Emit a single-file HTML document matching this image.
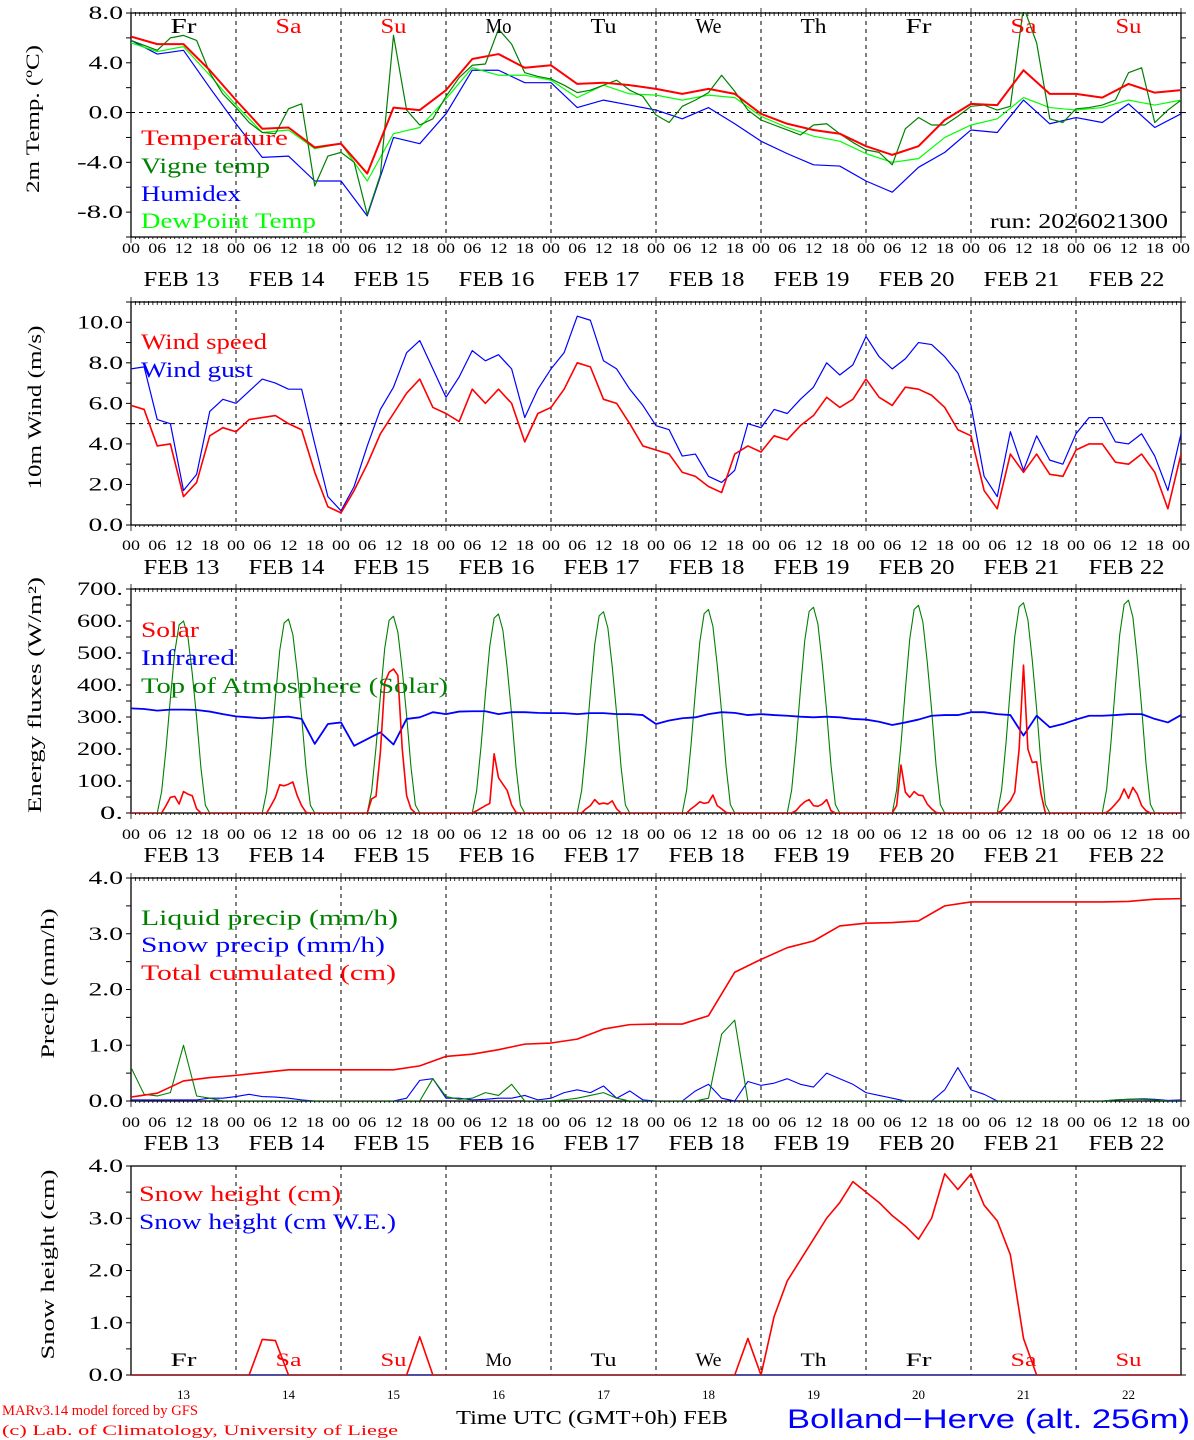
<!DOCTYPE html>
<html><head><meta charset="utf-8">
<style>
html,body{margin:0;padding:0;background:#fff;}
svg{display:block;}
</style></head>
<body>
<svg id="chart" xmlns="http://www.w3.org/2000/svg" width="1194" height="1440" viewBox="0 0 1194 1440"></svg>
<script>
// ---------- DATA ----------
const tempC = [6.1,5.5,5.5,3.4, 1.0,-1.3,-1.2,-2.8, -2.5,-4.9,0.4,0.2, 1.8,4.3,4.7,3.6, 3.8,2.3,2.4,2.2, 1.9,1.5,1.9,1.5, -0.1,-0.9,-1.4,-1.7, -2.7,-3.4,-2.7,-0.6, 0.7,0.6,3.4,1.5, 1.5,1.2,2.3,1.6, 1.8];
const humidex = [5.8,4.7,5.0,2.0, -0.9,-3.6,-3.5,-5.5, -5.5,-8.3,-2.0,-2.5, -0.1,3.4,3.4,2.4, 2.4,0.4,1.0,0.6, 0.2,-0.5,0.4,-0.9, -2.3,-3.3,-4.2,-4.3, -5.5,-6.4,-4.4,-3.2, -1.4,-1.6,1.0,-0.9, -0.4,-0.8,0.7,-1.2, -0.1];
const dewPoint = [5.6,4.9,5.3,3.0, 0.6,-1.6,-1.4,-2.9, -2.5,-5.5,-1.7,-1.2, 1.1,3.6,3.0,3.0, 2.6,1.2,2.2,1.5, 1.4,1.0,1.4,1.2, -0.3,-1.2,-1.9,-2.3, -3.3,-4.0,-3.7,-2.0, -1.0,-0.5,1.2,0.4, 0.2,0.4,1.0,0.6, 1.0];
const vigneTemp = [5.8,5.4,5.0,6.0,6.2,5.8,3.2,1.5, 0.4,-0.8,-1.6,-1.7,0.3,0.7,-5.9,-3.5, -3.2,-4.0,-8.2,-5.0,6.2,0.2,-1.0,-0.5, 1.3,2.8,3.8,3.9,6.7,5.5,3.2,2.9, 2.7,2.2,1.6,1.8,2.2,2.6,1.8,1.3, -0.2,-0.8,0.5,1.0,1.6,3.0,1.7,0.2, -0.6,-1.0,-1.4,-1.8,-1.0,-0.9,-1.7,-2.4, -3.0,-3.2,-4.2,-1.3,-0.4,-1.0,-1.0,-0.3, 0.5,0.6,0.2,0.5,8.5,5.6,-0.5,-0.8, 0.3,0.4,0.6,1.0,3.2,3.6,-0.8,0.2, 1.0];
const windSpeed = [5.9,5.7,3.9,4.0,1.4,2.1,4.4,4.8, 4.6,5.2,5.3,5.4,5.0,4.7,2.6,0.9, 0.6,1.7,3.0,4.5,5.5,6.5,7.2,5.8, 5.5,5.1,6.7,6.0,6.7,6.0,4.1,5.5, 5.8,6.7,8.0,7.8,6.2,6.0,5.0,3.9, 3.7, 3.5,2.6,2.4,1.9,1.6,3.5,3.9, 3.6,4.4,4.2,4.9,5.4,6.3,5.8,6.2, 7.2,6.3,5.9,6.8,6.7,6.4,5.8,4.7, 4.4,1.7,0.8,3.5,2.6,3.5,2.5,2.4, 3.7,4.0,4.0,3.1,3.0,3.5,2.6,0.8, 3.5];
const windGust = [7.7,7.8,5.2,5.0,1.7,2.5,5.6,6.2, 6.0,6.6,7.2,7.0,6.7,6.7,4.0,1.4, 0.7,1.9,3.9,5.7,6.8,8.5,9.1,7.7, 6.3,7.3,8.6,8.1,8.4,7.7,5.3,6.7, 7.7,8.5,10.3,10.1,8.1,7.7,6.7,5.9, 4.9, 4.7,3.4,3.5,2.4,2.1,2.7,5.0, 4.8,5.7,5.5,6.2,6.8,8.0,7.4,7.9, 9.3,8.3,7.7,8.2,9.0,8.9,8.3,7.5, 5.9,2.4,1.4,4.6,2.7,4.4,3.2,3.0, 4.5,5.3,5.3,4.1,4.0,4.5,3.4,1.7, 4.5];
const solarFlux = [
0,0,0,0,0,0,0,0,23,49,52,28,67,59,54,13,0,0,0,0,0,0,0,0,
0,0,0,0,0,0,0,0,23,49,88,85,90,97,54,23,2,0,0,0,0,0,0,0,
0,0,0,0,0,0,0,44,52,190,408,440,450,430,200,54,13,0,0,0,0,0,0,0,
0,0,0,0,0,0,0,7,15,23,30,185,110,90,70,25,2,0,0,0,0,0,0,0,
0,0,0,0,0,0,0,0,13,23,42,28,31,28,38,13,0,0,0,0,0,0,0,0,
0,0,0,0,0,0,0,0,13,23,35,30,33,56,23,13,2,0,0,0,0,0,0,0,
0,0,0,0,0,0,0,0,7,23,35,42,23,21,28,42,7,0,0,0,0,0,0,0,
0,0,0,0,0,0,0,23,150,65,49,67,56,54,28,13,2,0,0,0,0,0,0,0,
0,0,0,0,0,0,0,7,23,38,65,200,462,200,158,160,60,0,0,0,0,0,0,0,
0,0,0,0,0,0,0,2,13,28,44,75,46,80,59,23,7,0,0,0,0,0,0,0,
0];
const toaFlux = [
0,0,0,0,0,0,0,67,200,358,503,588,600,551,436,297,139,24,0,0,0,0,0,0,
0,0,0,0,0,0,0,67,202,361,508,594,606,557,441,300,141,24,0,0,0,0,0,0,
0,0,0,0,0,0,0,68,205,366,515,602,615,565,447,304,143,25,0,0,0,0,0,0,
0,0,0,0,0,0,0,69,207,371,521,609,622,571,452,308,144,25,0,0,0,0,0,0,
0,0,0,0,0,0,0,70,210,375,527,616,629,578,457,311,146,25,0,0,0,0,0,0,
0,0,0,0,0,0,0,71,212,379,533,623,636,584,462,315,148,26,0,0,0,0,0,0,
0,0,0,0,0,0,0,71,214,383,539,630,643,591,467,318,149,26,0,0,0,0,0,0,
0,0,0,0,0,0,0,72,216,387,544,636,649,597,472,321,151,26,0,0,0,0,0,0,
0,0,0,0,0,0,0,73,219,392,551,644,657,604,478,325,153,27,0,0,0,0,0,0,
0,0,0,0,0,0,0,74,222,396,558,652,665,612,484,329,155,27,0,0,0,0,0,0,
0];
const infraredFlux = [327,325,320,323,323,322,317,309, 302,299,296,299,301,294,216,278, 283,210,231,252,214,294,299,315, 309,317,318,318,309,315,315,313, 312,312,309,312,312,309,309,306, 278, 289,296,299,309,315,313,306, 309,306,304,301,299,301,299,294, 292,285,275,283,292,304,306,306, 315,315,309,306,242,304,268,278, 292,304,304,306,309,309,294,283, 306];
const liquidPrecip = [0.6,0.12,0.09,0.15,1.0,0.09,0.05,0, 0,0,0,0,0,0,0,0, 0,0,0,0,0,0,0,0.4, 0.08,0.03,0.05,0.15,0.1,0.3,0,0, 0,0.02,0.05,0.1,0.15,0.05,0,0, 0,0,0,0,0.05,1.2,1.45,0, 0,0,0,0,0,0,0,0, 0,0,0,0,0,0,0,0, 0,0,0,0,0,0,0,0, 0,0,0,0.02,0.03,0.03,0.02,0, 0];
const snowPrecip = [0.02,0.02,0.02,0.02,0.02,0.02,0.05,0.05, 0.08,0.12,0.08,0.07,0.05,0.02,0,0, 0,0,0,0,0,0.05,0.37,0.4, 0.05,0.05,0.02,0.03,0.05,0.05,0.1,0.02, 0.05,0.15,0.2,0.15,0.27,0.05,0.18,0.02, 0,0,0,0.18,0.3,0.05,0,0.35, 0.28,0.32,0.4,0.3,0.25,0.5,0.4,0.3, 0.15,0.1,0.05,0,0,0,0.2,0.6, 0.2,0.12,0,0,0,0,0,0, 0,0,0,0.02,0.03,0.04,0.03,0.01, 0.02];
const totalCumulated = [0.07,0.14,0.36,0.42, 0.46,0.51,0.56,0.56, 0.56,0.56,0.56,0.63, 0.80,0.84,0.92,1.02, 1.04,1.11,1.29,1.37, 1.38,1.38,1.53,2.31, 2.54,2.75,2.87,3.14, 3.19,3.20,3.23,3.50, 3.57,3.57,3.57,3.57, 3.57,3.57,3.58,3.62, 3.63];
const snowHeight = [0,0,0,0,0,0,0,0, 0,0,0.68,0.66,0,0,0,0, 0,0,0,0,0,0,0.73,0, 0,0,0,0,0,0,0,0, 0,0,0,0,0,0,0,0, 0,0,0,0,0,0,0,0.7, 0,1.12,1.8,2.2,2.6,3.0,3.3,3.7, 3.5,3.3,3.05,2.85,2.6,3.0,3.85,3.55, 3.85,3.25,2.95,2.3,0.7,0,0,0, 0,0,0,0,0,0,0,0, 0];
const snowHeightWE = [0,0,0,0,0,0,0,0,0,0,0,0,0,0,0,0,0,0,0,0,0];
const dayNames = ["Fr","Sa","Su","Mo","Tu","We","Th","Fr","Sa","Su"];
const dayDates = ["13","14","15","16","17","18","19","20","21","22"];
const hourLabels = ["00","06","12","18"];
const tempTicks = [-8,-4,0,4,8];
const windTicks = [0,2,4,6,8,10];
const fluxTicks = [0,100,200,300,400,500,600,700];
const precipTicks = [0,1,2,3,4];
const snowTicks = [0,1,2,3,4];

// ---------- GEOMETRY ----------
const NS = "http://www.w3.org/2000/svg";
const svg = document.getElementById("chart");
const X0 = 131, X1 = 1181, HOURS = 240;
function xs(h){ return X0 + h*(X1-X0)/HOURS; }
function ys(p, v){ return p.bottom - (v-p.min)/(p.max-p.min)*(p.bottom-p.top); }
const MONO = '"Liberation Serif", serif';
const SERIF = '"Liberation Serif", serif';

function mk(tag, attrs, parent, name, inter){
  const el = document.createElementNS(NS, tag);
  for (const k in attrs) el.setAttribute(k, attrs[k]);
  
  
  (parent || svg).appendChild(el);
  return el;
}
function txt(s, x, y, size, color, anchor, parent, name, fam, len, rot){
  const a = {x:x, y:y, 'font-size':size, fill:color, 'text-anchor':anchor||'start', 'font-family':fam||MONO};
  if (len){ a.textLength = len; a.lengthAdjust = 'spacingAndGlyphs'; }
  if (rot) a.transform = rot;
  const t = mk('text', a, parent, name, false);
  t.textContent = s;
  return t;
}

const panels = [
  {id:'temp', top:13, bottom:237, min:-10, max:8, minor:2, ticks:tempTicks, fmt:v=>v.toFixed(1), zero:0, title:'2m Temp. (ºC)', tx:45, tlen:148, hours:248, dates:279, topTicks:true},
  {id:'wind', top:302, bottom:525, min:0, max:11, minor:1, ticks:windTicks, fmt:v=>v.toFixed(1), zero:5, title:'10m Wind (m/s)', tx:47, tlen:164, hours:545, dates:567, topTicks:true},
  {id:'flux', top:589, bottom:813, min:0, max:700, minor:50, ticks:fluxTicks, fmt:v=>v.toFixed(0)+'.', zero:null, title:'Energy fluxes (W/m²)', tx:47, tlen:236, hours:834, dates:855, topTicks:true},
  {id:'precip', top:878, bottom:1101, min:0, max:4, minor:0.5, ticks:precipTicks, fmt:v=>v.toFixed(1), zero:null, title:'Precip (mm/h)', tx:60, tlen:150, hours:1122, dates:1143, topTicks:true},
  {id:'snow', top:1166, bottom:1375, min:0, max:4, minor:0.5, ticks:snowTicks, fmt:v=>v.toFixed(1), zero:null, title:'Snow height (cm)', tx:60, tlen:190, hours:null, dates:null, topTicks:false}
];

panels.forEach(function(p){
  const g = mk('g', {}, svg, p.id+'-panel', false);
  const cp = mk('clipPath', {id:'clip-'+p.id}, g, p.id+'-clip', false);
  mk('rect', {x:X0, y:p.top, width:X1-X0, height:p.bottom-p.top}, cp, p.id+'-clip-rect', false);
  for (let d=1; d<10; d++){
    mk('line', {x1:xs(d*24), x2:xs(d*24), y1:p.top, y2:p.bottom, stroke:'#000', 'stroke-width':1, 'stroke-dasharray':'4,4'}, g, p.id+'-day-divider', false);
  }
  if (p.zero !== null){
    mk('line', {x1:X0, x2:X1, y1:ys(p,p.zero), y2:ys(p,p.zero), stroke:'#000', 'stroke-width':1, 'stroke-dasharray':'4,4'}, g, p.id+'-reference-line', false);
  }
  mk('rect', {x:X0, y:p.top, width:X1-X0, height:p.bottom-p.top, fill:'none', stroke:'#000', 'stroke-width':1.3}, g, p.id+'-frame', false);
  for (let v=p.min; v<=p.max+1e-9; v+=p.minor){
    const y = ys(p,v);
    mk('line', {x1:X0-5, x2:X0, y1:y, y2:y, stroke:'#000', 'stroke-width':1}, g, p.id+'-y-tick', false);
    mk('line', {x1:X1, x2:X1+5, y1:y, y2:y, stroke:'#000', 'stroke-width':1}, g, p.id+'-y-tick-right', false);
  }
  p.ticks.forEach(function(v){
    const s = p.fmt(v);
    txt(s, 123, ys(p,v)+6, 19, '#000', 'end', g, p.id+'-y-tick-label', MONO, s.length*11.5);
  });
  if (p.topTicks){
    for (let h=0; h<=HOURS; h++){
      const L = (h%24===0) ? 8 : 4;
      mk('line', {x1:xs(h), x2:xs(h), y1:p.top-L+3, y2:p.top+3, stroke:'#000', 'stroke-width':0.8}, g, p.id+'-x-tick-top', false);
      mk('line', {x1:xs(h), x2:xs(h), y1:p.bottom, y2:p.bottom+L-2, stroke:'#000', 'stroke-width':0.8}, g, p.id+'-x-tick-bottom', false);
    }
  }
  const cy = (p.top+p.bottom)/2;
  txt(p.title, p.tx, cy, 19, '#000', 'middle', g, p.id+'-y-axis-title', MONO, p.tlen, 'rotate(-90 '+(p.tx-6)+' '+cy+')');
  if (p.hours){
    for (let d=0; d<10; d++){
      for (let k=0; k<4; k++){
        txt(hourLabels[k], xs(d*24+k*6), p.hours+5, 15, '#000', 'middle', g, p.id+'-hour-label', MONO, 18);
      }
      txt('FEB '+dayDates[d], xs(d*24+12)-2, p.dates+7, 21, '#000', 'middle', g, p.id+'-date-label', MONO, 76);
    }
    txt(hourLabels[0], xs(240), p.hours+5, 15, '#000', 'middle', g, p.id+'-hour-label', MONO, 18);
  }
  p.g = g;
});

function series(p, arr, color, width, name){
  const step = HOURS/(arr.length-1);
  const pts = arr.map(function(v,i){ return xs(i*step).toFixed(2)+','+ys(p,v).toFixed(2); }).join(' ');
  mk('polyline', {points:pts, fill:'none', stroke:color, 'stroke-width':width, 'stroke-linejoin':'round', 'clip-path':'url(#clip-'+p.id+')'}, p.g, name, false);
}
const RED='#ff0000', GRN='#008000', BLU='#0000ff', LGR='#00ff00';
const P = {}; panels.forEach(function(p){ P[p.id]=p; });

series(P.temp, humidex, BLU, 1.2, 'humidex-line');
series(P.temp, dewPoint, LGR, 1.2, 'dewpoint-line');
series(P.temp, vigneTemp, GRN, 1.2, 'vigne-temp-line');
series(P.temp, tempC, RED, 2, 'temperature-line');
for (let d=0; d<10; d++){
  txt(dayNames[d], xs(d*24+12), 33, 21, (d===1||d===2||d===8||d===9)?RED:'#000', 'middle', P.temp.g, 'day-name-label', MONO, 26);
}
txt('Temperature', 141, 145, 22, RED, 'start', P.temp.g, 'legend-temperature', MONO, 147);
txt('Vigne temp', 141, 173, 22, GRN, 'start', P.temp.g, 'legend-vigne-temp', MONO, 129);
txt('Humidex', 141, 201, 22, BLU, 'start', P.temp.g, 'legend-humidex', MONO, 100);
txt('DewPoint Temp', 141, 228, 22, LGR, 'start', P.temp.g, 'legend-dewpoint', MONO, 175);
txt('run: 2026021300', 1168, 228, 21, '#000', 'end', P.temp.g, 'run-label', MONO, 178);

series(P.wind, windGust, BLU, 1.2, 'wind-gust-line');
series(P.wind, windSpeed, RED, 1.6, 'wind-speed-line');
txt('Wind speed', 141, 349, 22, RED, 'start', P.wind.g, 'legend-wind-speed', MONO, 126);
txt('Wind gust', 141, 377, 22, BLU, 'start', P.wind.g, 'legend-wind-gust', MONO, 112);

series(P.flux, toaFlux, GRN, 1.1, 'toa-solar-line');
series(P.flux, infraredFlux, BLU, 1.8, 'infrared-line');
series(P.flux, solarFlux, RED, 1.6, 'solar-line');
txt('Solar', 141, 637, 22, RED, 'start', P.flux.g, 'legend-solar', MONO, 58);
txt('Infrared', 141, 665, 22, BLU, 'start', P.flux.g, 'legend-infrared', MONO, 94);
txt('Top of Atmosphere (Solar)', 141, 693, 22, GRN, 'start', P.flux.g, 'legend-toa', MONO, 307);

series(P.precip, snowPrecip, BLU, 1.1, 'snow-precip-line');
series(P.precip, liquidPrecip, GRN, 1.1, 'liquid-precip-line');
series(P.precip, totalCumulated, RED, 1.6, 'total-cumulated-line');
txt('Liquid precip (mm/h)', 141, 925, 22, GRN, 'start', P.precip.g, 'legend-liquid-precip', MONO, 257);
txt('Snow precip (mm/h)', 141, 952, 22, BLU, 'start', P.precip.g, 'legend-snow-precip', MONO, 244);
txt('Total cumulated (cm)', 141, 980, 22, RED, 'start', P.precip.g, 'legend-total-cumulated', MONO, 255);

series(P.snow, snowHeightWE, BLU, 1.2, 'snow-height-we-line');
series(P.snow, snowHeight, RED, 1.6, 'snow-height-line');
txt('Snow height (cm)', 139, 1201, 22, RED, 'start', P.snow.g, 'legend-snow-height', MONO, 202);
txt('Snow height (cm W.E.)', 139, 1229, 22, BLU, 'start', P.snow.g, 'legend-snow-height-we', MONO, 257);
for (let d=0; d<10; d++){
  txt(dayNames[d], xs(d*24+12), 1366, 19, (d===1||d===2||d===8||d===9)?RED:'#000', 'middle', P.snow.g, 'day-name-bottom', MONO, 26);
  txt(dayDates[d], xs(d*24+12), 1399, 13, '#000', 'middle', P.snow.g, 'day-number-label', SERIF);
}

txt('Time UTC (GMT+0h) FEB', 592, 1424, 20, '#000', 'middle', svg, 'x-axis-title', MONO, 272);
txt('MARv3.14 model forced by GFS', 2, 1415, 15, RED, 'start', svg, 'model-credit', SERIF, 196);
txt('(c) Lab. of Climatology, University of Liege', 2, 1435, 15, RED, 'start', svg, 'copyright-credit', SERIF, 396);
txt('Bolland\u2212Herve (alt. 256m)', 1190, 1428, 27, BLU, 'end', svg, 'station-title', '"Liberation Sans", sans-serif', 403);
</script>
</body></html>
